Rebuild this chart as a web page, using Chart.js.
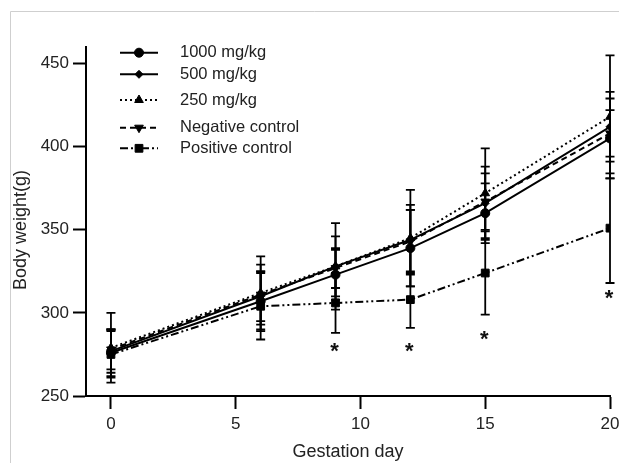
<!DOCTYPE html>
<html><head><meta charset="utf-8">
<script src="https://cdn.jsdelivr.net/npm/chart.js@4.4.1/dist/chart.umd.min.js"></script>
<style>html,body{margin:0;padding:0;background:#fff}canvas{display:block}</style>
</head><body>
<canvas id="c" width="619" height="463"></canvas>
<script>
// ---- data ----
const days = [0, 6, 9, 12, 15, 20];
const seriesNames = ['1000 mg/kg', '500 mg/kg', '250 mg/kg', 'Negative control', 'Positive control'];
const mean1000 = [276, 307, 323, 339, 360, 405];
const sd1000   = [14, 18, 15, 23, 18, 24];
const mean500  = [277, 310, 328, 344, 366, 412];
const sd500    = [13, 15, 18, 21, 22, 21];
const mean250  = [279, 312, 328, 345, 372, 418];
const sd250    = [21, 22, 26, 29, 27, 37];
const meanNeg  = [278, 311, 327, 343, 367, 408];
const sdNeg    = [12, 18, 12, 19, 17, 14];
const meanPos  = [275, 304, 306, 308, 324, 351];
const sdPos    = [14, 20, 18, 17, 25, 33];
const xTicks = [0, 5, 10, 15, 20];
const yTicks = [250, 300, 350, 400, 450];
const starDays = [9, 12, 15, 20];
const starValues = [280.7, 280.7, 288, 312.7];
const xTitle = 'Gestation day';
const yTitle = 'Body weight(g)';

const means = [mean1000, mean500, mean250, meanNeg, meanPos];
const sds = [sd1000, sd500, sd250, sdNeg, sdPos];

const FONT = '"Liberation Sans", Arial, Helvetica, sans-serif';
const styles = [
  {pointStyle: 'circle', radius: 4.5, rotation: 0, dash: []},
  {pointStyle: 'rectRot', radius: 4, rotation: 0, dash: []},
  {pointStyle: 'triangle', radius: 5, rotation: 0, dash: [2, 3]},
  {pointStyle: 'triangle', radius: 5, rotation: 180, dash: [6, 4]},
  {pointStyle: 'rect', radius: 5.5, rotation: 0, dash: [8, 3, 2, 3, 2, 3]}
];

const datasets = seriesNames.map((name, i) => ({
  label: name,
  data: days.map((d, j) => ({x: d, y: means[i][j]})),
  borderColor: '#000',
  backgroundColor: '#000',
  borderWidth: 2,
  borderDash: styles[i].dash,
  pointStyle: styles[i].pointStyle,
  pointRadius: styles[i].radius,
  pointRotation: styles[i].rotation,
  pointBorderWidth: 1,
  pointBackgroundColor: '#000',
  pointBorderColor: '#000',
  tension: 0,
  fill: false
}));

const decor = {
  id: 'decor',
  beforeDraw(chart) {
    const ctx = chart.ctx;
    ctx.save();
    ctx.strokeStyle = '#cfcfcf';
    ctx.lineWidth = 1;
    ctx.beginPath();
    ctx.moveTo(10.5, 463); ctx.lineTo(10.5, 11.5); ctx.lineTo(619, 11.5);
    ctx.stroke();
    ctx.restore();
  },
  beforeDatasetsDraw(chart) {
    const ctx = chart.ctx, xs = chart.scales.x, ys = chart.scales.y;
    ctx.save();
    ctx.strokeStyle = '#000';
    ctx.lineWidth = 1.8;
    ctx.setLineDash([]);
    means.forEach((m, i) => {
      days.forEach((d, j) => {
        const x = xs.getPixelForValue(d);
        const y1 = ys.getPixelForValue(m[j] + sds[i][j]);
        const y2 = ys.getPixelForValue(m[j] - sds[i][j]);
        ctx.beginPath();
        ctx.moveTo(x, y1); ctx.lineTo(x, y2);
        ctx.moveTo(x - 4.5, y1); ctx.lineTo(x + 4.5, y1);
        ctx.moveTo(x - 4.5, y2); ctx.lineTo(x + 4.5, y2);
        ctx.stroke();
      });
    });
    ctx.restore();
  },
  afterDraw(chart) {
    const ctx = chart.ctx, xs = chart.scales.x, ys = chart.scales.y;
    ctx.save();
    // asterisks
    ctx.fillStyle = '#111';
    ctx.font = 'bold 22px ' + FONT;
    ctx.textAlign = 'center';
    ctx.textBaseline = 'alphabetic';
    starDays.forEach((d, k) => {
      ctx.fillText('*', xs.getPixelForValue(d) - 1, ys.getPixelForValue(starValues[k]) + 13.5);
    });
    // y title
    ctx.fillStyle = '#222';
    ctx.font = '18px ' + FONT;
    ctx.translate(21.5, 230);
    ctx.rotate(-Math.PI / 2);
    ctx.textAlign = 'center';
    ctx.textBaseline = 'middle';
    ctx.fillText(yTitle, 0, 0);
    ctx.restore();
    // legend
    const rows = [52.7, 74.3, 100, 127.7, 148.3];
    ctx.save();
    seriesNames.forEach((name, i) => {
      const y = rows[i];
      ctx.strokeStyle = '#000';
      ctx.lineWidth = 2;
      ctx.setLineDash(styles[i].dash);
      ctx.beginPath(); ctx.moveTo(120, y); ctx.lineTo(158, y); ctx.stroke();
      ctx.setLineDash([]);
      ctx.fillStyle = '#000';
      ctx.lineWidth = 1;
      Chart.helpers.drawPoint(ctx, {pointStyle: styles[i].pointStyle, radius: styles[i].radius, rotation: styles[i].rotation, borderWidth: 1}, 139, y);
      ctx.fillStyle = '#222';
      ctx.font = '16.5px ' + FONT;
      ctx.textAlign = 'left';
      ctx.textBaseline = 'middle';
      ctx.fillText(name, 180, y);
    });
    ctx.restore();
  }
};

new Chart(document.getElementById('c'), {
  type: 'line',
  data: {datasets},
  plugins: [decor],
  options: {
    responsive: false,
    animation: false,
    devicePixelRatio: 1,
    layout: {padding: {top: 47, right: 9, bottom: 0, left: 0}},
    plugins: {legend: {display: false}, tooltip: {enabled: false}},
    scales: {
      x: {
        type: 'linear', min: -1, max: 20,
        afterBuildTicks(s) { s.ticks = xTicks.map(v => ({value: v})); },
        afterFit(s) { s.height = 67; s.paddingLeft = 0; s.paddingRight = 0; },
        grid: {display: true, drawOnChartArea: false, drawTicks: true, tickLength: 13, tickWidth: 2, tickColor: '#000'},
        border: {display: true, color: '#000', width: 2},
        ticks: {font: {family: FONT, size: 17}, color: '#222', padding: 5, maxRotation: 0, autoSkip: false},
        title: {display: true, text: xTitle, font: {family: FONT, size: 18}, color: '#222', padding: {top: 0, bottom: 0}}
      },
      y: {
        type: 'linear', min: 250, max: 460,
        afterBuildTicks(s) { s.ticks = yTicks.map(v => ({value: v})); },
        afterFit(s) { s.width = 86; s.paddingTop = 0; s.paddingBottom = 0; },
        grid: {display: true, drawOnChartArea: false, drawTicks: true, tickLength: 13, tickWidth: 2, tickColor: '#000'},
        border: {display: true, color: '#000', width: 2},
        ticks: {font: {family: FONT, size: 17}, color: '#222', padding: 4, autoSkip: false},
        title: {display: false}
      }
    }
  }
});
</script>
</body></html>
